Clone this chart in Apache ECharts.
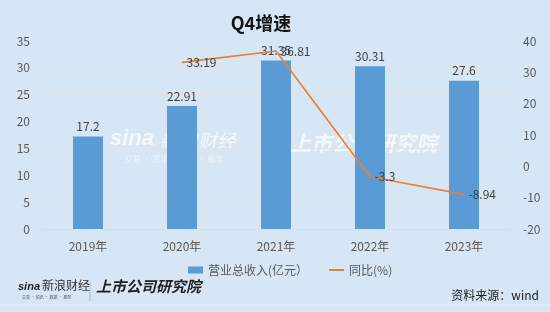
<!DOCTYPE html>
<html><head><meta charset="utf-8">
<script src="https://cdn.jsdelivr.net/npm/echarts@6/dist/echarts.min.js"></script>
<style>html,body{margin:0;padding:0;background:#D6E6F4;}#c{width:550px;height:312px;}</style>
</head><body><div id="c"></div>
<script>
const categories = ['2019年','2020年','2021年','2022年','2023年'];
const revenue = [17.2, 22.91, 31.35, 30.31, 27.6];
const yoy = [null, 33.19, 36.81, -3.3, -8.94];
const leftTicks = {min:0, max:35, interval:5};
const rightTicks = {min:-20, max:40, interval:10};
const titleText = 'Q4增速';
const seriesNames = ['营业总收入(亿元）', '同比(%)'];
const sourceText = '资料来源：wind';

const chart = echarts.init(document.getElementById('c'), null, {renderer:'canvas'});
const font = '"Microsoft YaHei","Noto Sans CJK SC","Noto Sans",sans-serif';
chart.setOption({
  backgroundColor:'#D6E6F4',
  animation:false,
  textStyle:{fontFamily:font},
  title:{text:titleText, left:256, textAlign:'center', top:9,
    textStyle:{fontSize:18, fontWeight:'bold', color:'#111', fontFamily:font}},
  grid:{left:41, right:39, top:41, bottom:83},
  legend:{top:259, left:183, itemGap:21, itemWidth:15, itemHeight:7, symbolKeepAspect:true,
    textStyle:{fontSize:12, color:'#595959', fontFamily:font},
    data:[{name:seriesNames[0], icon:'rect'},
          {name:seriesNames[1], icon:'path://M0,0 L15,0 L15,2 L0,2 Z', itemStyle:{color:'#ED7D31'}}]},
  xAxis:{type:'category', data:categories,
    axisLine:{show:true, lineStyle:{color:'#d9dee4'}}, axisTick:{show:false},
    axisLabel:{color:'#595959', fontSize:12, margin:11}},
  yAxis:[
    {type:'value', min:leftTicks.min, max:leftTicks.max, interval:leftTicks.interval,
      axisLine:{show:false}, axisTick:{show:false},
      axisLabel:{color:'#595959', fontSize:12, margin:11},
      splitLine:{lineStyle:{color:'#dde3e9', width:1}}},
    {type:'value', min:rightTicks.min, max:rightTicks.max, interval:rightTicks.interval,
      axisLine:{show:false}, axisTick:{show:false},
      axisLabel:{color:'#595959', fontSize:12, margin:12},
      splitLine:{show:false}}
  ],
  series:[
    {name:seriesNames[0], type:'bar', data:revenue, barWidth:30, z:3,
      itemStyle:{color:'#5B9BD5'},
      label:{show:true, position:'top', distance:4, color:'#404040', fontSize:12}},
    {name:seriesNames[1], type:'line', yAxisIndex:1, data:yoy, z:4,
      symbol:'circle', symbolSize:1, showSymbol:true, connectNulls:false,
      lineStyle:{color:'#ED7D31', width:1.6}, itemStyle:{color:'#ED7D31'},
      label:{show:true, position:'right', distance:4, color:'#404040', fontSize:12}}
  ],
  graphic:[
    {type:'group', z:1, silent:true, children:[
      {type:'text', left:110, top:128, style:{text:'sina', fill:'rgba(255,255,255,0.7)', font:'italic bold 22px Arial'}},
      {type:'text', left:160, top:131, style:{text:'新浪财经', fill:'rgba(255,255,255,0.7)', font:'italic 19px "Noto Sans CJK SC"'}},
      {type:'text', left:125, top:155, style:{text:'交易 · 资讯 · 数据 · 服务', fill:'rgba(255,255,255,0.6)', font:'8px "Noto Sans CJK SC"'}},
      {type:'text', left:290, top:133, style:{text:'上市公司研究院', fill:'rgba(255,255,255,0.7)', font:'italic bold 21px "Noto Sans CJK SC"'}}
    ]},
    {type:'line', z:1, shape:{x1:0, y1:305, x2:550, y2:305}, style:{stroke:'#e6eef6', lineWidth:1}},
    {type:'text', left:18, top:281, style:{text:'sina', fill:'#222', font:'italic bold 11px Arial'}},
    {type:'text', left:42, top:279, style:{text:'新浪财经', fill:'#333', font:'12px "Noto Sans CJK SC"'}},
    {type:'text', left:22, top:295, style:{text:'交易 · 资讯 · 数据 · 服务', fill:'#555', font:'4px "Noto Sans CJK SC"'}},
    {type:'line', shape:{x1:90, y1:282, x2:90, y2:301}, style:{stroke:'#aab4be', lineWidth:1}},
    {type:'text', left:96, top:279, style:{text:'上市公司研究院', fill:'#222', font:'italic bold 15px "Noto Sans CJK SC"'}},
    {type:'text', right:11, top:289, style:{text:sourceText, fill:'#222', font:'12px "Noto Sans CJK SC"'}}
  ]
});
</script></body></html>
